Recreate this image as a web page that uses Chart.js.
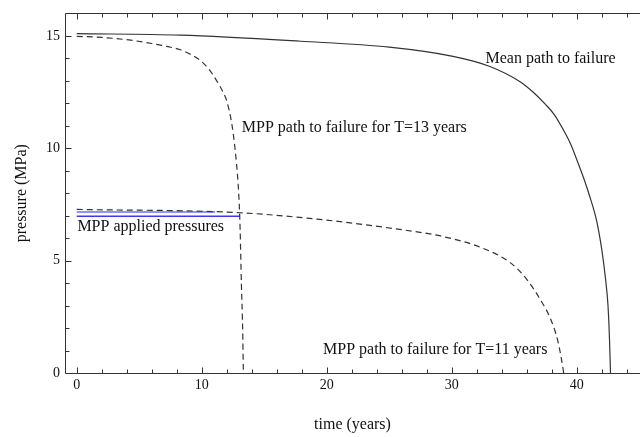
<!DOCTYPE html>
<html>
<head>
<meta charset="utf-8">
<script src="https://cdn.jsdelivr.net/npm/chart.js@4.4.1/dist/chart.umd.min.js"></script>
<style>
  html, body { margin: 0; padding: 0; background: #fff; }
</style>
</head>
<body>
<canvas id="chart" width="640" height="437"></canvas>
<script>
// values: time in years, pressure in MPa
const meanTime = [0, 8.3, 17.9, 25, 30, 33, 35.5, 36.5, 37.5, 38.2, 38.9, 39.5, 40.1, 40.6, 41.1, 41.6, 42.0, 42.3, 42.5, 42.62, 42.7];
const meanPressure = [15.1, 15.03, 14.76, 14.5, 14.1, 13.65, 12.95, 12.5, 11.95, 11.5, 10.85, 10.2, 9.35, 8.6, 7.75, 6.75, 5.5, 4.2, 3.0, 1.5, 0];

const mpp13Time = [0, 2, 4, 6, 7.3, 8.3, 9.2, 9.9, 10.6, 11.2, 11.7, 12.0, 12.4, 12.67, 12.9, 13.0, 13.07, 13.17, 13.27, 13.33];
const mpp13Pressure = [14.98, 14.93, 14.83, 14.66, 14.52, 14.38, 14.15, 13.9, 13.5, 13.0, 12.5, 12.1, 11.1, 9.94, 8.5, 7.5, 6.4, 4.0, 2.0, 0];

const mpp11Time = [0, 13.06, 20.0, 25.3, 29.3, 32.5, 34.7, 36.0, 37.06, 37.9, 38.5, 38.9, 38.95];
const mpp11Pressure = [7.28, 7.13, 6.8, 6.43, 6.07, 5.55, 4.9, 4.17, 3.29, 2.41, 1.39, 0.2, 0];

const applied11Time = [0, 11.07];
const applied11Pressure = [7.16, 7.16];
const applied13Time = [0, 13.06];
const applied13Pressure = [6.97, 6.97];

const xTickLabels = [0, 10, 20, 30, 40];
const yTickLabels = [0, 5, 10, 15];

const noteTexts = ['Mean path to failure', 'MPP path to failure for T=13 years',
  'MPP applied pressures', 'MPP path to failure for T=11 years'];

// where the notes sit, in data units (left edge, vertical middle)
const notePlaces = [[32.7, 13.96], [13.2, 10.9], [0.05, 6.5], [19.7, 1.02]];

const serif = '"Liberation Serif", "Times New Roman", serif';

function pts(xs, ys) {
  return xs.map((t, i) => ({ x: t, y: ys[i] }));
}

const frame = {
  id: 'frame',
  afterDatasetsDraw(chart) {
    const { ctx, chartArea: a, scales: { x, y } } = chart;
    ctx.save();
    ctx.strokeStyle = '#333';
    ctx.lineWidth = 1;
    ctx.beginPath();
    const L = Math.round(a.left) + 0.5, T = Math.round(a.top) + 0.5, B = Math.round(a.bottom) + 0.5;
    ctx.moveTo(L, T); ctx.lineTo(L, B); ctx.lineTo(a.right, B);
    ctx.moveTo(L, T); ctx.lineTo(a.right, T);
    // ticks point inward, the time ticks repeat on the top edge
    for (let v = 0; v <= 44; v += 2) {
      const px = Math.round(x.getPixelForValue(v)) + 0.5;
      const len = v % 10 === 0 ? 6 : 4;
      ctx.moveTo(px, B); ctx.lineTo(px, B - len);
      ctx.moveTo(px, T); ctx.lineTo(px, T + len);
    }
    for (let v = 1; v <= 15; v++) {
      const py = Math.round(y.getPixelForValue(v)) + 0.5;
      const len = v % 5 === 0 ? 6 : 4;
      ctx.moveTo(L, py); ctx.lineTo(L + len, py);
    }
    ctx.stroke();

    ctx.font = '16px ' + serif;
    ctx.fillStyle = '#111';
    ctx.textBaseline = 'middle';
    noteTexts.forEach((s, i) => {
      const [t, p] = notePlaces[i];
      ctx.fillText(s, x.getPixelForValue(t), y.getPixelForValue(p));
    });
    ctx.restore();
  }
};

const dark = '#333';

new Chart(document.getElementById('chart'), {
  type: 'scatter',
  data: {
    datasets: [
      { data: pts(meanTime, meanPressure), borderColor: dark, borderWidth: 1.2 },
      { data: pts(mpp13Time, mpp13Pressure), borderColor: dark, borderWidth: 1.2, borderDash: [6, 4] },
      { data: pts(mpp11Time, mpp11Pressure), borderColor: dark, borderWidth: 1.2, borderDash: [6, 4] },
      { data: pts(applied11Time, applied11Pressure), borderColor: 'rgb(110,110,255)', borderWidth: 1.5 },
      { data: pts(applied13Time, applied13Pressure), borderColor: 'rgb(60,60,225)', borderWidth: 1.5 },
    ],
  },
  options: {
    responsive: false,
    animation: false,
    showLine: true,
    elements: {
      point: { radius: 0 },
      line: { cubicInterpolationMode: 'monotone', fill: false },
    },
    layout: { padding: { left: 0, right: 0, top: 9, bottom: 0 } },
    plugins: { legend: { display: false }, tooltip: { enabled: false } },
    scales: {
      x: {
        type: 'linear',
        min: -0.94,
        max: 45.06,
        grid: { display: false, drawTicks: false },
        border: { display: false },
        afterBuildTicks: (s) => { s.ticks = xTickLabels.map((v) => ({ value: v })); },
        afterFit: (s) => { s.height = 64; },
        ticks: { font: { family: serif, size: 14 }, color: '#111', padding: 4, maxRotation: 0, autoSkip: false },
        title: { display: true, text: 'time (years)', font: { family: serif, size: 16 }, color: '#111', padding: { top: 0, bottom: 3 } },
      },
      y: {
        min: 0,
        max: 16,
        grid: { display: false, drawTicks: false },
        border: { display: false },
        afterBuildTicks: (s) => { s.ticks = yTickLabels.map((v) => ({ value: v })); },
        afterFit: (s) => { s.width = 65; },
        ticks: { font: { family: serif, size: 14 }, color: '#111', padding: 5 },
        title: { display: true, text: 'pressure (MPa)', font: { family: serif, size: 16 }, color: '#111', padding: { top: 12, bottom: 0 } },
      },
    },
  },
  plugins: [frame],
});
</script>
</body>
</html>
